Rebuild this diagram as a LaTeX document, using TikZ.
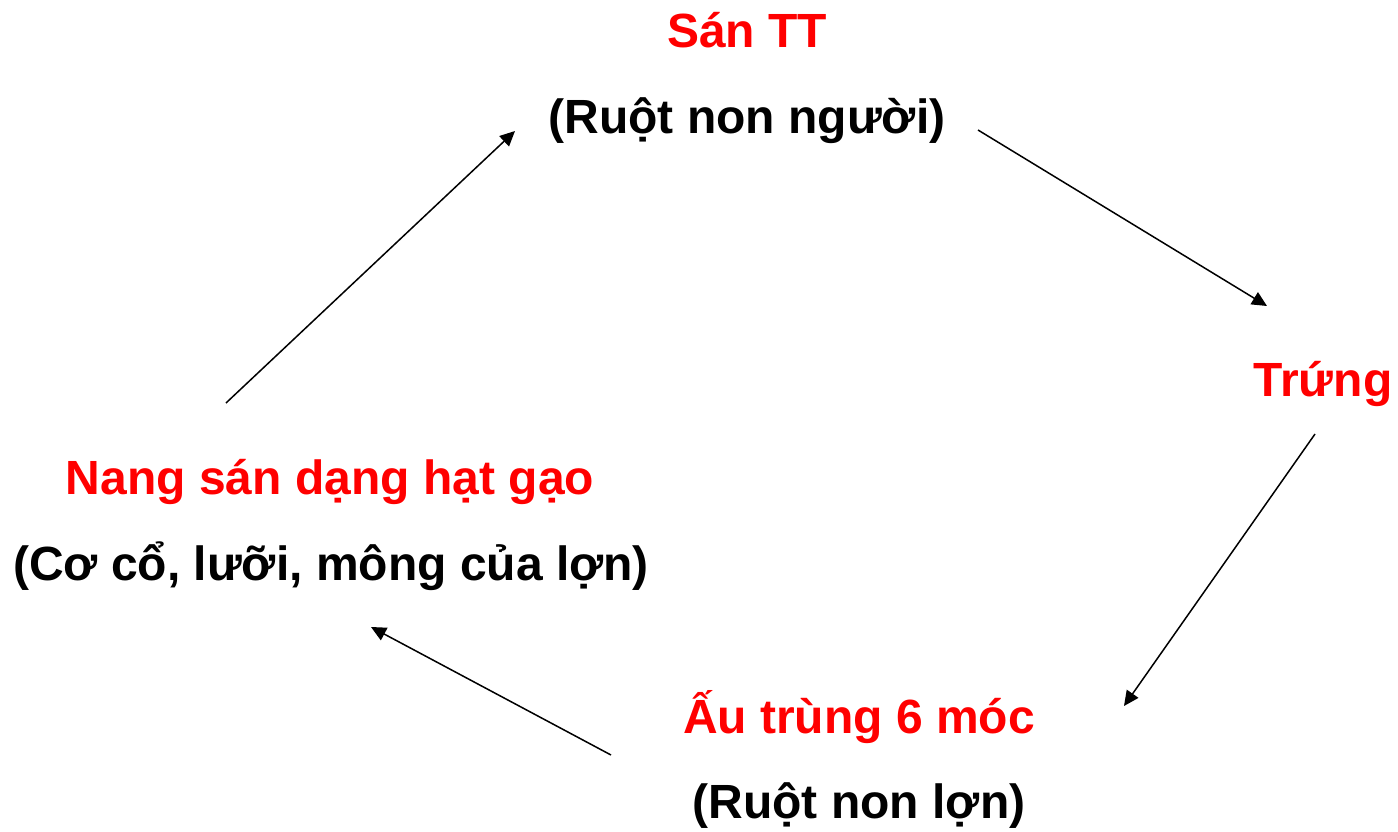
\documentclass[tikz,border=0pt]{standalone}
\usepackage{fontspec}
\setmainfont{Liberation Sans}
\usetikzlibrary{arrows.meta}
\definecolor{stagered}{RGB}{255,0,0}
\begin{document}
\begin{tikzpicture}[x=0.5pt,y=-0.5pt,
  lbl/.style={font=\fontsize{24}{28}\selectfont\bfseries, inner sep=0pt, anchor=center},
  red/.style={lbl, text=stagered},
  blk/.style={lbl, text=black},
  link/.style={line width=0.75pt, -{Triangle[length=7.5pt,width=7pt]}}]
\useasboundingbox (0,0) rectangle (1398,831);
\node[red] (sanTT) at (747,30) {Sán TT};
\node[blk] (ruotNguoi) at (747,121) {(Ruột non người)};
\node[red] (trung) at (1323,384) {Trứng};
\node[red] (nang) at (330,482) {Nang sán dạng hạt gạo};
\node[blk] (coCo) at (331,566) {(Cơ cổ, lưỡi, mông của lợn)};
\node[red] (auTrung) at (859,717) {Ấu trùng 6 móc};
\node[blk] (ruotLon) at (859,806) {(Ruột non lợn)};
\coordinate (a1s) at (978,130);
\coordinate (a1e) at (1267,306);
\coordinate (a2s) at (1315,434);
\coordinate (a2e) at (1124,706);
\coordinate (a3s) at (611,755);
\coordinate (a3e) at (371,627);
\coordinate (a4s) at (226,403);
\coordinate (a4e) at (515,131);
\draw[link] (a1s) -- (a1e);
\draw[link] (a2s) -- (a2e);
\draw[link] (a3s) -- (a3e);
\draw[link] (a4s) -- (a4e);
\end{tikzpicture}
\end{document}
